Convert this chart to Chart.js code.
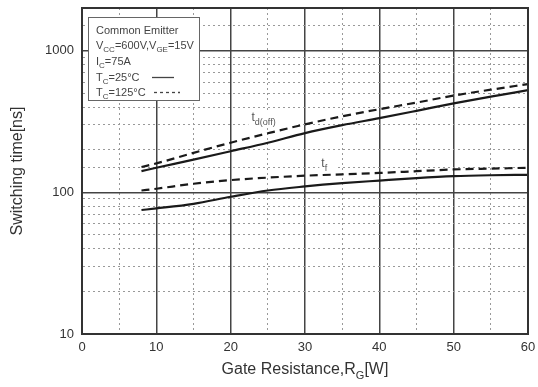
<!DOCTYPE html>
<html>
<head>
<meta charset="utf-8">
<script src="https://cdn.jsdelivr.net/npm/chart.js@4.4.1/dist/chart.umd.min.js"></script>
<style>
  html, body { margin: 0; padding: 0; background: #fff; }
  #wrap { width: 538px; height: 387px; }
</style>
</head>
<body>
<div id="wrap"><canvas id="switchTime"></canvas></div>
<script>
// Gate resistance [ohm] and switching times [ns]
const rg = [8, 10, 15, 20, 25, 30, 35, 40, 45, 50, 55, 60];
const tdOff25 = [141, 149, 170, 195, 224, 262, 298, 334, 376, 424, 474, 526];
const tdOff125 = [151, 160, 190, 224, 261, 302, 344, 386, 430, 482, 530, 581];
const tf25 = [75, 77, 83, 93, 103, 110, 116, 121, 126, 130, 132, 133];
const tf125 = [103, 106, 115, 122, 127, 131, 134, 137, 141, 145, 147, 149];

const yTickLabels = [10, 100, 1000];
const xTickLabels = [0, 10, 20, 30, 40, 50, 60];

const FONT = "'Liberation Sans', Arial, sans-serif";
const isDecade = v => yTickLabels.includes(v);

function points(ys) {
    return rg.map((x, i) => ({ x: x, y: ys[i] }));
}

// writes text made of [string, subscript?] pieces
function drawParts(ctx, parts, x, y, size, subSize, align) {
    let total = 0;
    parts.forEach(p => {
        ctx.font = (p[1] ? subSize : size) + 'px ' + FONT;
        total += ctx.measureText(p[0]).width;
    });
    let cx = align === 'center' ? x - total / 2 : x;
    ctx.textAlign = 'left';
    ctx.textBaseline = 'alphabetic';
    parts.forEach(p => {
        ctx.font = (p[1] ? subSize : size) + 'px ' + FONT;
        ctx.fillText(p[0], cx, p[1] ? y + size * 0.3 : y);
        cx += ctx.measureText(p[0]).width;
    });
    return total;
}

const decorations = {
    id: 'decorations',
    beforeDatasetsDraw(chart) {
        const ctx = chart.ctx;
        const a = chart.chartArea;
        const xs = chart.scales.x;
        const ys = chart.scales.y;
        ctx.save();

        // curve labels with white backing over the grid
        const lab1x = xs.getPixelForValue(22.8), lab1y = ys.getPixelForValue(317);
        ctx.fillStyle = '#fff';
        ctx.fillRect(lab1x - 3, lab1y - 11, 50, 16);
        ctx.fillStyle = '#555';
        drawParts(ctx, [['t', false], ['d(off)', true]], lab1x, lab1y, 12, 9);

        const lab2x = xs.getPixelForValue(32.2), lab2y = ys.getPixelForValue(150);
        ctx.fillStyle = '#fff';
        ctx.fillRect(lab2x - 2, lab2y - 10, 16, 13);
        ctx.fillStyle = '#555';
        drawParts(ctx, [['t', false], ['f', true]], lab2x, lab2y, 12, 9);

        // condition box
        const bx = a.left + 6, by = a.top + 9, bw = 111, bh = 83;
        ctx.fillStyle = '#fff';
        ctx.fillRect(bx, by, bw, bh);
        ctx.strokeStyle = '#666';
        ctx.lineWidth = 1;
        ctx.strokeRect(bx + 0.5, by + 0.5, bw, bh);

        ctx.fillStyle = '#444';
        const tx = bx + 8;
        drawParts(ctx, [['Common Emitter', false]], tx, by + 17, 11, 8);
        drawParts(ctx, [['V', false], ['CC', true], ['=600V,V', false], ['GE', true], ['=15V', false]], tx, by + 32, 11, 8);
        drawParts(ctx, [['I', false], ['C', true], ['=75A', false]], tx, by + 48, 11, 8);
        drawParts(ctx, [['T', false], ['C', true], ['=25°C', false]], tx, by + 64, 11, 8);
        drawParts(ctx, [['T', false], ['C', true], ['=125°C', false]], tx, by + 79, 11, 8);

        ctx.strokeStyle = '#444';
        ctx.lineWidth = 1.3;
        ctx.beginPath();
        ctx.moveTo(bx + 64, by + 60.5);
        ctx.lineTo(bx + 86, by + 60.5);
        ctx.stroke();
        ctx.setLineDash([3, 3]);
        ctx.beginPath();
        ctx.moveTo(bx + 66, by + 75.5);
        ctx.lineTo(bx + 92, by + 75.5);
        ctx.stroke();
        ctx.restore();
    },
    afterDraw(chart) {
        const ctx = chart.ctx;
        const a = chart.chartArea;
        ctx.save();

        // plot frame
        ctx.strokeStyle = '#333';
        ctx.lineWidth = 2;
        ctx.strokeRect(a.left, a.top, a.right - a.left, a.bottom - a.top);

        // axis titles
        ctx.fillStyle = '#333';
        drawParts(ctx, [['Gate Resistance,R', false], ['G', true], ['[W]', false]],
            (a.left + a.right) / 2, 374, 16, 11, 'center');

        ctx.translate(22, (a.top + a.bottom) / 2);
        ctx.rotate(-Math.PI / 2);
        ctx.font = '16px ' + FONT;
        ctx.textAlign = 'center';
        ctx.textBaseline = 'alphabetic';
        ctx.fillText('Switching time[ns]', 0, 0);
        ctx.restore();
    }
};

function curve(label, ys, dashed) {
    return {
        label: label,
        data: points(ys),
        borderColor: '#1a1a1a',
        borderWidth: 2.2,
        borderDash: dashed ? [8, 5] : [],
        pointRadius: 0,
        fill: false,
        cubicInterpolationMode: 'monotone'
    };
}

new Chart(document.getElementById('switchTime'), {
    type: 'line',
    data: {
        datasets: [
            curve('td(off) 25C', tdOff25, false),
            curve('td(off) 125C', tdOff125, true),
            curve('tf 25C', tf25, false),
            curve('tf 125C', tf125, true)
        ]
    },
    plugins: [decorations],
    options: {
        responsive: true,
        maintainAspectRatio: false,
        animation: false,
        layout: { padding: { left: 0, right: 10, top: 8, bottom: 0 } },
        plugins: {
            legend: { display: false },
            tooltip: { enabled: false }
        },
        scales: {
            x: {
                type: 'linear',
                min: 0,
                max: 60,
                afterFit: s => {
                    s.height = 53;
                    s.paddingLeft = 0;
                    s.paddingRight = 0;
                },
                ticks: {
                    stepSize: 5,
                    autoSkip: false,
                    maxRotation: 0,
                    padding: 6,
                    color: '#333',
                    font: { family: FONT, size: 13 },
                    callback: v => xTickLabels.includes(v) ? String(v) : ''
                },
                grid: {
                    drawTicks: false,
                    color: c => (c.tick && c.tick.value % 10 === 0) ? '#444' : '#999',
                    lineWidth: c => (c.tick && c.tick.value % 10 === 0) ? 1.5 : 1
                },
                border: {
                    color: '#333',
                    width: 2,
                    dash: c => (c.tick && c.tick.value % 10 !== 0) ? [2, 3] : []
                }
            },
            y: {
                type: 'logarithmic',
                min: 10,
                max: 2000,
                afterFit: s => {
                    s.width = 82;
                    s.paddingTop = 0;
                    s.paddingBottom = 0;
                },
                ticks: {
                    autoSkip: false,
                    padding: 8,
                    color: '#333',
                    font: { family: FONT, size: 13 },
                    callback: v => yTickLabels.includes(v) ? String(v) : ''
                },
                grid: {
                    drawTicks: false,
                    color: c => (c.tick && isDecade(c.tick.value)) ? '#444' : '#999',
                    lineWidth: c => (c.tick && isDecade(c.tick.value)) ? 1.5 : 1
                },
                border: {
                    color: '#333',
                    width: 2,
                    dash: c => (c.tick && !isDecade(c.tick.value)) ? [2, 3] : []
                }
            }
        }
    }
});
</script>
</body>
</html>
